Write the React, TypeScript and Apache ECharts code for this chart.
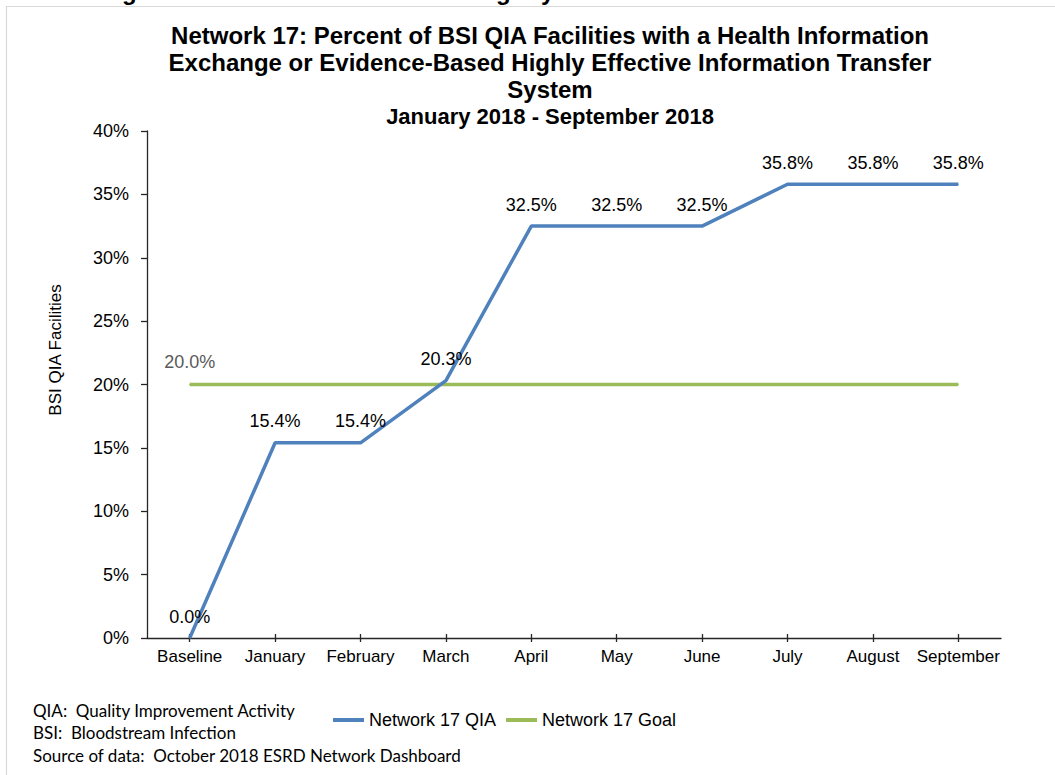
import React, { useEffect, useRef } from 'react';
import * as echarts from 'echarts';

const categories = ['Baseline', 'January', 'February', 'March', 'April', 'May', 'June', 'July', 'August', 'September'];
const qiaValues = [0.0, 15.4, 15.4, 20.3, 32.5, 32.5, 32.5, 35.8, 35.8, 35.8];
const goalValues = [20.0, 20.0, 20.0, 20.0, 20.0, 20.0, 20.0, 20.0, 20.0, 20.0];
const seriesNames = ['Network 17 QIA', 'Network 17 Goal'];
const titleLines = [
  'Network 17: Percent of BSI QIA Facilities with a Health Information',
  'Exchange or Evidence-Based Highly Effective Information Transfer',
  'System',
];
const subtitle = 'January 2018 - September 2018';
const yAxisName = 'BSI QIA Facilities';
const footnotes = [
  'QIA:  Quality Improvement Activity',
  'BSI:  Bloodstream Infection',
  'Source of data:  October 2018 ESRD Network Dashboard',
];
const cutGlyphs = [
  { ch: 'g', x: 122 },
  { ch: 'g', x: 496 },
  { ch: 'y', x: 541 },
];

const FONT = 'Arial, "Liberation Sans", sans-serif';

export default function App() {
  const ref = useRef<HTMLDivElement>(null);
  useEffect(() => {
    const chart = echarts.init(ref.current as HTMLDivElement, null, { renderer: 'svg' });
    const pct = (p: any) => Number(p.value).toFixed(1) + '%';
    const titleY = [35, 62, 89];
    const footY = [710, 732, 755];
    const axisColor = '#262626';
    const qiaColor = '#4F81BD';
    const goalColor = '#9BBB59';
    chart.setOption({
      animation: false,
      backgroundColor: '#ffffff',
      textStyle: { fontFamily: FONT },
      grid: { left: 147, right: 54, top: 131, bottom: 137, containLabel: false },
      legend: {
        left: 333,
        top: 711,
        padding: 0,
        icon: 'rect',
        itemWidth: 31,
        itemHeight: 4,
        itemGap: 10,
        data: [
          { name: seriesNames[0], itemStyle: { color: qiaColor, opacity: 1 } },
          { name: seriesNames[1], itemStyle: { color: goalColor, opacity: 1 } },
        ],
        textStyle: { fontSize: 18, color: '#000', fontFamily: FONT },
      },
      xAxis: [
        {
          type: 'category',
          data: categories,
          boundaryGap: true,
          axisLine: { show: true, lineStyle: { color: axisColor, width: 1.3 } },
          axisTick: { show: true, interval: 0, alignWithLabel: true, length: 4, lineStyle: { color: axisColor, width: 1.3 } },
          axisLabel: { interval: 0, fontSize: 17, color: '#000', margin: 10, fontFamily: FONT },
          splitLine: { show: false },
        },
        {
          type: 'category',
          data: categories,
          position: 'bottom',
          boundaryGap: true,
          axisLine: { show: false },
          axisTick: { show: true, interval: 0, inside: true, alignWithLabel: true, length: 4, lineStyle: { color: axisColor, width: 1.3 } },
          axisLabel: { show: false, interval: 0 },
          splitLine: { show: false },
        },
      ],
      yAxis: {
        type: 'value',
        min: 0,
        max: 40,
        interval: 5,
        axisLine: { show: true, lineStyle: { color: axisColor, width: 1.3 } },
        axisTick: { show: true, length: 6, lineStyle: { color: axisColor, width: 1.3 } },
        axisLabel: { fontSize: 18, color: '#000', margin: 18, formatter: '{value}%', fontFamily: FONT },
        splitLine: { show: false },
      },
      series: [
        {
          name: seriesNames[0],
          type: 'line',
          data: qiaValues,
          showSymbol: true,
          symbol: 'circle',
          symbolSize: 1,
          lineStyle: { color: qiaColor, width: 3.5 },
          itemStyle: { color: qiaColor },
          emphasis: { disabled: true },
          label: {
            show: true,
            position: 'top',
            distance: 12,
            formatter: pct,
            fontSize: 18,
            color: '#000',
            fontFamily: FONT,
          },
          z: 3,
        },
        {
          name: seriesNames[1],
          type: 'line',
          data: goalValues.map((v, i) => (i === 0 ? { value: v, label: { show: true } } : v)),
          showSymbol: true,
          symbol: 'circle',
          symbolSize: 1,
          lineStyle: { color: goalColor, width: 3.5 },
          itemStyle: { color: goalColor },
          emphasis: { disabled: true },
          label: {
            show: false,
            position: 'top',
            distance: 13,
            formatter: pct,
            fontSize: 18,
            color: '#595959',
            fontFamily: FONT,
          },
          z: 2,
        },
      ],
      graphic: [
        {
          type: 'rect',
          shape: { x: 6.5, y: 6.5, width: 1100, height: 800 },
          style: { fill: 'none', stroke: '#d9d9d9', lineWidth: 1.2 },
          silent: true,
          z: -10,
        },
        ...cutGlyphs.map((g) => ({
          type: 'text',
          x: g.x,
          y: -8.5,
          style: { text: g.ch, font: `bold 24px ${FONT}`, fill: '#000', verticalAlign: 'middle' },
          silent: true,
        })),
        ...titleLines.map((t, i) => ({
          type: 'text',
          x: 550,
          y: titleY[i],
          style: {
            text: t,
            font: `bold 24px ${FONT}`,
            fill: '#000',
            align: 'center',
            verticalAlign: 'middle',
          },
          silent: true,
        })),
        {
          type: 'text',
          x: 550,
          y: 116,
          style: {
            text: subtitle,
            font: `bold 22px ${FONT}`,
            fill: '#000',
            align: 'center',
            verticalAlign: 'middle',
          },
          silent: true,
        },
        {
          type: 'text',
          x: 55,
          y: 350,
          rotation: Math.PI / 2,
          style: {
            text: yAxisName,
            font: `17px ${FONT}`,
            fill: '#000',
            align: 'center',
            verticalAlign: 'middle',
          },
          silent: true,
        },
        ...footnotes.map((t, i) => ({
          type: 'text',
          x: 33,
          y: footY[i],
          style: {
            text: t,
            font: '17px Lato, "Open Sans", sans-serif',
            fill: '#000',
            align: 'left',
            verticalAlign: 'middle',
          },
          silent: true,
        })),
      ],
    });
    return () => chart.dispose();
  }, []);
  return (
    <div
      ref={ref}
      style={{ position: 'absolute', left: 0, top: 0, width: 1055, height: 775, background: '#fff' }}
    />
  );
}
